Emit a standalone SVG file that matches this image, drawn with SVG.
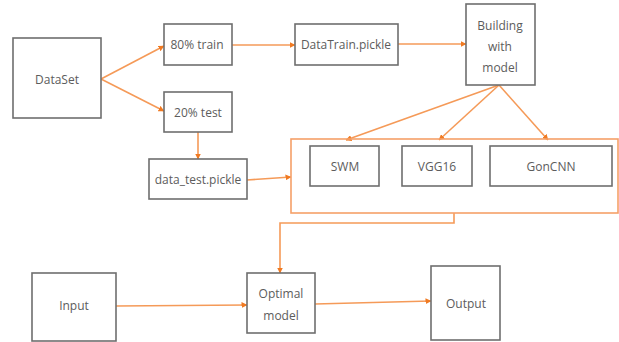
<svg xmlns="http://www.w3.org/2000/svg" width="619" height="342" viewBox="0 0 619 342">
<defs>
<marker id="ah" viewBox="0 0 6 6" refX="5.5" refY="3" markerWidth="6" markerHeight="6" markerUnits="userSpaceOnUse" orient="auto">
<path d="M0,0 L6,3 L0,6 Z" fill="#f07a22"/>
</marker>
<style>
.box{fill:#fff;stroke:#6e6e6e;stroke-width:1.6}
.cont{fill:none;stroke:#f5a068;stroke-width:1.6}
.c{fill:none;stroke:#f59a58;stroke-width:1.6;marker-end:url(#ah)}
.cl{fill:none;stroke:#f59a58;stroke-width:1.6}
text{font-family:"Open Sans","Noto Sans",sans-serif;font-size:12px;fill:#5c5c5c;text-anchor:middle}
</style>
</defs>
<rect width="619" height="342" fill="#fff"/>
<g id="connectors">
<path class="c" d="M101,79 L164,46"/>
<path class="c" d="M101,79 L164,111"/>
<path class="c" d="M232,45 L295,45"/>
<path class="c" d="M398,44 L466,44"/>
<path class="c" d="M198,132 L198,159"/>
<path class="c" d="M247,180 L291,177"/>
<path class="c" d="M499,85 L346,140"/>
<path class="c" d="M499,85 L439,140"/>
<path class="c" d="M499,85 L548,140"/>
<path class="c" d="M454,213 L454,223 L280,223 L280,273"/>
<path class="c" d="M116,306 L247,305"/>
<path class="c" d="M315,304 L431,301"/>
</g>
<g id="dataset"><rect class="box" x="13" y="38" width="88" height="80"/><text x="57" y="84">DataSet</text></g>
<g id="train"><rect class="box" x="164" y="24" width="68" height="41"/><text x="197" y="49">80% train</text></g>
<g id="test"><rect class="box" x="164" y="92" width="68" height="40"/><text x="198" y="117">20% test</text></g>
<g id="datatest"><rect class="box" x="149" y="159" width="98" height="40"/><text x="198" y="184">data_test.pickle</text></g>
<g id="datatrain"><rect class="box" x="295" y="24" width="103" height="41"/><text x="346" y="49">DataTrain.pickle</text></g>
<g id="building"><rect class="box" x="466" y="4" width="69" height="81"/><text x="500" y="30">Building</text><text x="500" y="51">with</text><text x="500" y="72">model</text></g>
<g id="models"><rect class="cont" x="291" y="139" width="327" height="74"/></g>
<g id="swm"><rect class="box" x="310" y="146" width="69" height="40"/><text x="345" y="171">SWM</text></g>
<g id="vgg16"><rect class="box" x="402" y="146" width="70" height="40"/><text x="437" y="171">VGG16</text></g>
<g id="goncnn"><rect class="box" x="490" y="146" width="122" height="40"/><text x="551" y="171">GonCNN</text></g>
<g id="input"><rect class="box" x="32" y="273" width="84" height="68"/><text x="74" y="310">Input</text></g>
<g id="optimal"><rect class="box" x="247" y="273" width="68" height="60"/><text x="281" y="298">Optimal</text><text x="281" y="320">model</text></g>
<g id="output"><rect class="box" x="431" y="266" width="69" height="74"/><text x="466" y="308">Output</text></g>
</svg>
